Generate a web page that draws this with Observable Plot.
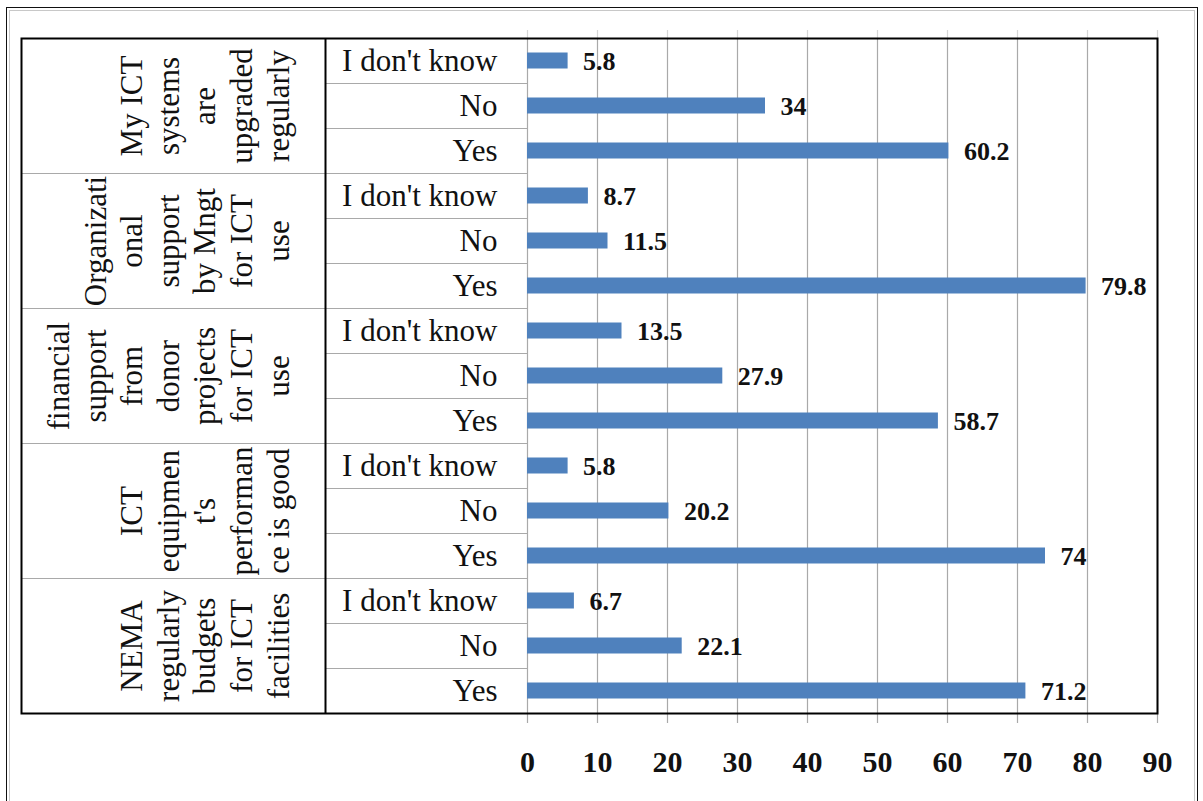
<!DOCTYPE html>
<html>
<head>
<meta charset="utf-8">
<script src="https://cdn.jsdelivr.net/npm/d3@7"></script>
<script src="https://cdn.jsdelivr.net/npm/@observablehq/plot@0.6"></script>
<style>
  html, body { margin: 0; padding: 0; background: #fff; overflow: hidden; }
  #page-frame {
    position: absolute; left: 6px; top: 7px; width: 1190px; height: 900px;
    border: 1.5px solid #111; box-shadow: inset 0 0 0 2px #fff, inset 0 0 0 3px #c8c8c8;
    pointer-events: none;
  }
  #chart { position: absolute; left: 0; top: 0; }
</style>
</head>
<body>
<div id="chart"></div>
<div id="page-frame"></div>
<script>
// ---- data ----
const groupLabels = [
  "My ICT\nsystems\nare\nupgraded\nregularly",
  "Organizati\nonal\nsupport\nby Mngt\nfor ICT\nuse",
  "financial\nsupport\nfrom\ndonor\nprojects\nfor ICT\nuse",
  "ICT\nequipmen\nt's\nperforman\nce is good",
  "NEMA\nregularly\nbudgets\nfor ICT\nfacilities"
];
const responses = ["I don't know", "No", "Yes"];
const dontKnowValues = [5.8, 8.7, 13.5, 5.8, 6.7];
const noValues = [34, 11.5, 27.9, 20.2, 22.1];
const yesValues = [60.2, 79.8, 58.7, 74, 71.2];
const xTicks = [0, 10, 20, 30, 40, 50, 60, 70, 80, 90];

// ---- table built from the arrays ----
const seriesByResponse = [dontKnowValues, noValues, yesValues];
const rows = groupLabels.flatMap((g, gi) =>
  responses.map((r, ri) => ({key: gi + "|" + r, group: gi, response: r, value: seriesByResponse[ri][gi]}))
);
const rowKeys = rows.map(d => d.key);
const groups = groupLabels.map((label, gi) => ({label, mid: gi + "|" + responses[1], first: gi + "|" + responses[0]}));

// ---- layout ----
const W = 1203, H = 801, mt = 38, mb = 88, ml = 527, mr = 46;
const bw = (H - mt - mb) / rowKeys.length;
const catCol = 202;      // width of the response column
const groupCol = 304;    // width of the group column
const grey = "#a9a9a9";

const chart = Plot.plot({
  width: W, height: H,
  marginTop: mt, marginBottom: mb, marginLeft: ml, marginRight: mr,
  style: {fontFamily: "'Liberation Serif', 'Times New Roman', serif", color: "#000", background: "transparent", overflow: "visible"},
  x: {domain: [0, 90]},
  y: {domain: rowKeys, padding: 0},
  marks: [
    // faint grid stubs above the box
    Plot.ruleX(xTicks, {stroke: "#d6d6d6", strokeWidth: 1.2, insetTop: -8, insetBottom: H - mt - mb}),
    // vertical grid lines, with tick stubs below the box
    Plot.ruleX(xTicks, {stroke: grey, strokeWidth: 1.2, insetBottom: -10}),
    // response-column row separators
    Plot.ruleY(rowKeys.slice(1), {dy: -bw / 2, insetLeft: -catCol, insetRight: W - ml - mr, stroke: grey, strokeWidth: 1.2}),
    // group-column separators
    Plot.ruleY(groups.slice(1).map(g => g.first), {dy: -bw / 2, insetLeft: -(catCol + groupCol), insetRight: W - ml - mr + catCol, stroke: grey, strokeWidth: 1.2}),
    // bars
    Plot.barX(rows, {x: "value", y: "key", fill: "#4F81BD", insetTop: 14.5, insetBottom: 14.5}),
    // value labels
    Plot.text(rows, {x: "value", y: "key", text: d => String(d.value), dx: 15, dy: 1, textAnchor: "start", fontWeight: "bold", fontSize: 26, fill: "#111"}),
    // response labels
    Plot.axisY({tickSize: 0, tickPadding: 30, tickFormat: k => k.split("|")[1], fontSize: 31, label: null, fill: "#111"}),
    // x axis labels
    Plot.axisX(xTicks, {tickSize: 0, tickPadding: 37, fontSize: 30, fontWeight: "bold", label: null, fill: "#111"}),
    // group labels (rotated, wrapped)
    Plot.text(groups, {y: "mid", text: "label", frameAnchor: "left", dx: -239, rotate: -90, textAnchor: "middle", lineAnchor: "bottom", lineHeight: 1.18, fontSize: 31, fill: "#111"}),
    // divider between group and response columns
    Plot.ruleX([0], {dx: -catCol, stroke: "#000", strokeWidth: 2}),
    // outer box of the table + plot
    Plot.frame({stroke: "#000", strokeWidth: 2, insetLeft: -(catCol + groupCol)})
  ]
});
document.getElementById("chart").appendChild(chart);
</script>
</body>
</html>
